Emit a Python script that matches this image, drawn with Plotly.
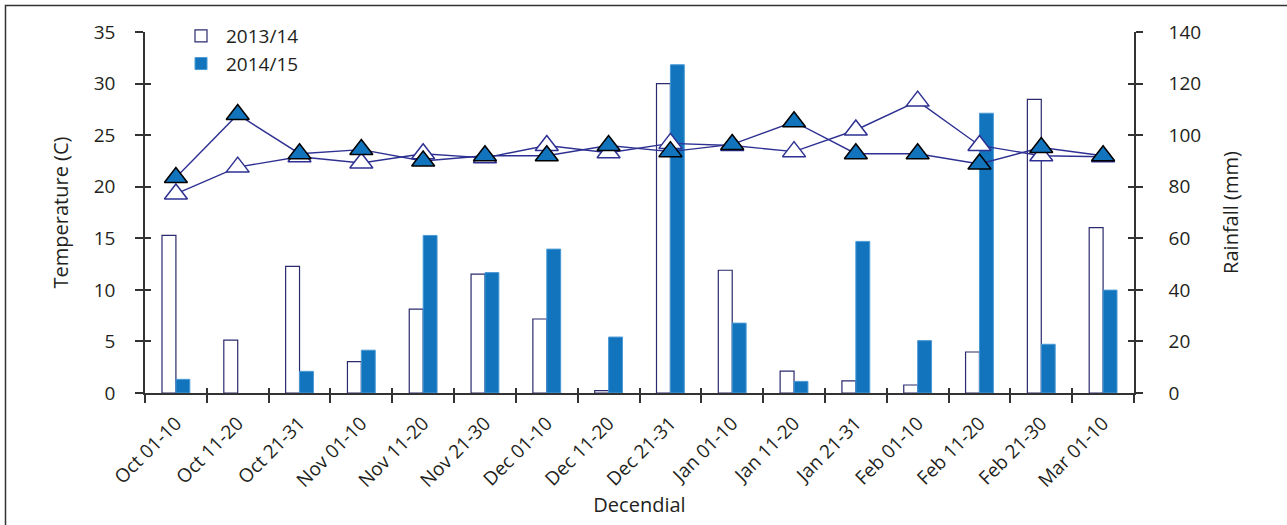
import plotly.graph_objects as go

categories = ["Oct 01-10", "Oct 11-20", "Oct 21-31", "Nov 01-10", "Nov 11-20", "Nov 21-30",
              "Dec 01-10", "Dec 11-20", "Dec 21-31", "Jan 01-10", "Jan 11-20", "Jan 21-31",
              "Feb 01-10", "Feb 11-20", "Feb 21-30", "Mar 01-10"]

rain_2013_14 = [61.1, 20.5, 49.1, 12.2, 32.5, 46.1, 28.7, 0.9, 120.0, 47.6, 8.5, 4.7, 3.1, 15.9, 113.9, 64.1]
rain_2014_15 = [5.3, 0.0, 8.4, 16.6, 61.1, 46.7, 55.8, 21.7, 127.3, 27.1, 4.5, 58.8, 20.3, 108.5, 18.9, 39.9]

temp_2013_14 = [19.3, 21.9, 22.9, 22.3, 23.2, 22.8, 24.0, 23.3, 24.2, 24.0, 23.4, 25.5, 28.3, 24.0, 23.0, 22.9]
temp_2014_15 = [20.9, 27.0, 23.2, 23.6, 22.5, 23.0, 23.0, 24.0, 23.4, 24.1, 26.3, 23.2, 23.2, 22.2, 23.8, 23.0]

temp_ticks = [0, 5, 10, 15, 20, 25, 30, 35]
rain_ticks = [0, 20, 40, 60, 80, 100, 120, 140]

idx = list(range(len(categories)))
bounds = [i - 0.5 for i in range(len(categories) + 1)]

FONT = "Open Sans"
TXT = "#231F20"
AX = "#333333"
NAVY = "#2E3192"
BLUE = "#1274BC"
BW = 0.225  # bar width in category units

fig = go.Figure()

# rainfall bars (y: labelled right axis, y2: twin right axis carrying inner ticks)
fig.add_trace(go.Bar(
    x=idx, y=rain_2013_14, name="2013/14", xaxis="x", yaxis="y", width=BW, offset=-BW,
    marker=dict(color="white", line=dict(color="#2B2A6E",
                width=[1.2 if v > 0 else 0 for v in rain_2013_14])),
))
fig.add_trace(go.Bar(
    x=idx, y=rain_2014_15, name="2014/15", xaxis="x", yaxis="y2", width=BW, offset=0,
    marker=dict(color=BLUE, line=dict(color="#4A9AD6",
                width=[1 if v > 0 else 0 for v in rain_2014_15])),
))

# temperature lines (y3: labelled left axis, y4: twin left axis carrying inner ticks)
fig.add_trace(go.Scatter(
    x=idx, y=temp_2013_14, xaxis="x", yaxis="y3", mode="lines+markers", showlegend=False,
    line=dict(color=NAVY, width=1.4),
    marker=dict(symbol="triangle-up", size=20, color="white", line=dict(color=NAVY, width=1.5)),
))
fig.add_trace(go.Scatter(
    x=idx, y=temp_2014_15, xaxis="x2", yaxis="y4", mode="lines+markers", showlegend=False,
    line=dict(color=NAVY, width=1.4),
    marker=dict(symbol="triangle-up", size=20, color=BLUE, line=dict(color="black", width=1.5)),
))

W, H = 1287, 525
L, R, T, B = 145, 153, 32, 132
pw, ph = W - L - R, H - T - B

tickfont = dict(family=FONT, size=19, color=TXT)
titlefont = dict(family=FONT, size=20, color=TXT)
xr = [-0.5, len(categories) - 0.5]

fig.update_layout(
    width=W, height=H,
    margin=dict(l=L, r=R, t=T, b=B, pad=0, autoexpand=False),
    paper_bgcolor="white", plot_bgcolor="white",
    barmode="overlay",
    font=dict(family=FONT, color=TXT),
    showlegend=True,
    legend=dict(x=(176 - L) / pw, y=1 + (T - 17) / ph, xanchor="left", yanchor="top",
                font=dict(family=FONT, size=19, color=TXT), bgcolor="rgba(0,0,0,0)",
                tracegroupgap=0, itemwidth=40),
    xaxis=dict(range=xr, tickmode="array", tickvals=idx,
               ticktext=categories, tickangle=-45, ticks="outside", ticklen=10,
               tickcolor="rgba(0,0,0,0)", tickfont=tickfont, showline=True,
               linecolor=AX, linewidth=1.5, showgrid=False, zeroline=False,
               minor=dict(tickmode="array", tickvals=bounds, ticks="outside", ticklen=8,
                          tickwidth=1.5, tickcolor=AX, showgrid=False),
               title=dict(text="Decendial", font=titlefont, standoff=0), anchor="y"),
    xaxis2=dict(range=xr, overlaying="x", anchor="y", side="bottom",
                tickmode="array", tickvals=bounds, ticks="inside", ticklen=5,
                tickwidth=1.5, tickcolor=AX, showticklabels=False, showline=False,
                showgrid=False, zeroline=False),
    yaxis=dict(range=[0, 140], tickmode="array", tickvals=rain_ticks, side="right",
               ticks="outside", ticklen=7, tickwidth=1.5, tickcolor=AX, tickfont=tickfont,
               ticklabelstandoff=22, showline=True, linecolor=AX, linewidth=1.5,
               showgrid=False, zeroline=False, anchor="x",
               title=dict(text="Rainfall (mm)", font=titlefont, standoff=24)),
    yaxis2=dict(range=[0, 140], tickmode="array", tickvals=rain_ticks, side="right",
                overlaying="y", anchor="x", ticks="inside", ticklen=6, tickwidth=1.5,
                tickcolor=AX, showticklabels=False, showline=False, showgrid=False,
                zeroline=False),
    yaxis3=dict(range=[0, 35], tickmode="array", tickvals=temp_ticks, side="left",
                overlaying="y", anchor="x", ticks="outside", ticklen=8, tickwidth=1.5,
                tickcolor=AX, tickfont=tickfont, ticklabelstandoff=16, showline=True,
                linecolor=AX, linewidth=1.5, showgrid=False, zeroline=False,
                title=dict(text="Temperature (C)", font=titlefont, standoff=20)),
    yaxis4=dict(range=[0, 35], tickmode="array", tickvals=temp_ticks, side="left",
                overlaying="y", anchor="x", ticks="inside", ticklen=6, tickwidth=1.5,
                tickcolor=AX, showticklabels=False, showline=False, showgrid=False,
                zeroline=False),
)

# outer frame of the figure
fig.add_shape(type="rect", xref="paper", yref="paper",
              x0=(5.5 - L) / pw, x1=(W + 5 - L) / pw,
              y0=-(H + 5 - (T + ph)) / ph, y1=1 + (T - 5.5) / ph,
              line=dict(color="#333333", width=1.5), fillcolor="rgba(0,0,0,0)", layer="below")

fig.write_html("out.html", config={"displayModeBar": False},
               post_script="document.body.style.margin='0px';document.body.style.overflow='hidden';")
